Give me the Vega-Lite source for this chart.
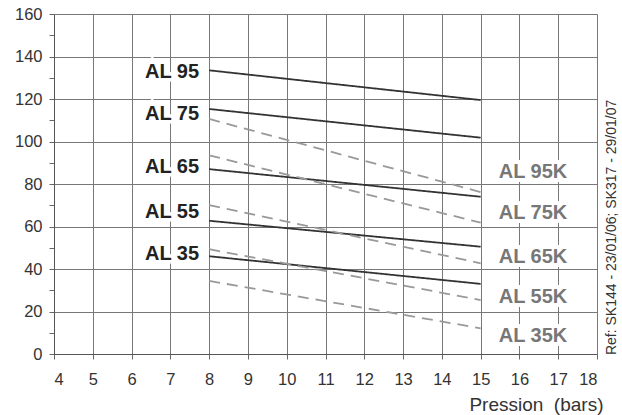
{
  "$schema": "https://vega.github.io/schema/vega-lite/v6.json",
  "width": 543,
  "height": 340,
  "autosize": {"type": "none"},
  "padding": {"left": 54, "top": 14, "right": 25, "bottom": 61},
  "background": "white",
  "config": {
    "view": {"stroke": null},
    "font": "Liberation Sans",
    "axis": {"labelFont": "Liberation Sans", "titleFont": "Liberation Sans"}
  },
  "datasets": {
    "lines": [
      {"serie": "AL 95", "kind": "solid", "p": 8, "v": 133.5},
      {"serie": "AL 95", "kind": "solid", "p": 15, "v": 119.5},
      {"serie": "AL 75", "kind": "solid", "p": 8, "v": 115.3},
      {"serie": "AL 75", "kind": "solid", "p": 15, "v": 101.8},
      {"serie": "AL 65", "kind": "solid", "p": 8, "v": 87},
      {"serie": "AL 65", "kind": "solid", "p": 15, "v": 74},
      {"serie": "AL 55", "kind": "solid", "p": 8, "v": 62.7},
      {"serie": "AL 55", "kind": "solid", "p": 15, "v": 50.5},
      {"serie": "AL 35", "kind": "solid", "p": 8, "v": 46},
      {"serie": "AL 35", "kind": "solid", "p": 15, "v": 33},
      {"serie": "AL 95K", "kind": "dashed", "p": 8, "v": 110.6},
      {"serie": "AL 95K", "kind": "dashed", "p": 15, "v": 76.2},
      {"serie": "AL 75K", "kind": "dashed", "p": 8, "v": 93.5},
      {"serie": "AL 75K", "kind": "dashed", "p": 15, "v": 61.8},
      {"serie": "AL 65K", "kind": "dashed", "p": 8, "v": 70.1},
      {"serie": "AL 65K", "kind": "dashed", "p": 15, "v": 42.7},
      {"serie": "AL 55K", "kind": "dashed", "p": 8, "v": 49.3},
      {"serie": "AL 55K", "kind": "dashed", "p": 15, "v": 25.4},
      {"serie": "AL 35K", "kind": "dashed", "p": 8, "v": 34.4},
      {"serie": "AL 35K", "kind": "dashed", "p": 15, "v": 12.1}
    ],
    "leftLabels": [
      {"label": "AL 95", "p": 7.74, "v": 132.8},
      {"label": "AL 75", "p": 7.74, "v": 113.1},
      {"label": "AL 65", "p": 7.74, "v": 88},
      {"label": "AL 55", "p": 7.74, "v": 66.7},
      {"label": "AL 35", "p": 7.74, "v": 47.2}
    ],
    "rightLabels": [
      {"label": "AL 95K", "p": 16.35, "v": 85.8},
      {"label": "AL 75K", "p": 16.35, "v": 66.4},
      {"label": "AL 65K", "p": 16.35, "v": 45.6},
      {"label": "AL 55K", "p": 16.35, "v": 26.7},
      {"label": "AL 35K", "p": 16.35, "v": 8.6}
    ],
    "ref": [
      {"label": "Ref: SK144 - 23/01/06; SK317 - 29/01/07", "p": 18.38, "v": -0.5}
    ]
  },
  "encoding": {
    "x": {
      "field": "p", "type": "quantitative",
      "scale": {"domain": [4, 18], "nice": false, "zero": false},
      "axis": {
        "values": [4,5,6,7,8,9,10,11,12,13,14,15,16,17,18],
        "title": "Pression \u00a0(bars)",
        "titleFontSize": 19, "titleFontWeight": "normal", "titleColor": "#333",
        "titleAlign": "right", "titleAnchor": "end", "titleX": 549, "titlePadding": 8,
        "labelFontSize": 16.5, "labelColor": "#333", "labelPadding": 12,
        "tickSize": 5, "tickColor": "#666",
        "domainColor": "#555", "grid": true, "gridColor": "#777", "gridWidth": 1
      }
    },
    "y": {
      "field": "v", "type": "quantitative",
      "scale": {"domain": [0, 160], "nice": false},
      "axis": {
        "values": [0,10,20,30,40,50,60,70,80,90,100,110,120,130,140,150,160],
        "labelExpr": "datum.value % 20 == 0 ? datum.label : ''",
        "title": null,
        "labelFontSize": 16.5, "labelColor": "#333", "labelPadding": 7,
        "tickSize": 5, "tickColor": "#666",
        "domainColor": "#555", "grid": true, "gridColor": "#777", "gridWidth": 1,
        "gridOpacity": {"condition": {"test": "datum.value % 20 != 0", "value": 0}, "value": 1}
      }
    }
  },
  "layer": [
    {
      "data": {"name": "lines"},
      "mark": {"type": "line", "strokeWidth": 1.8},
      "encoding": {
        "detail": {"field": "serie"},
        "color": {"field": "kind", "type": "nominal", "scale": {"domain": ["solid", "dashed"], "range": ["#333333", "#999999"]}, "legend": null},
        "strokeDash": {"field": "kind", "type": "nominal", "scale": {"domain": ["solid", "dashed"], "range": [[1, 0], [11, 7]]}, "legend": null}
      }
    },
    {
      "data": {"name": "leftLabels"},
      "mark": {"type": "text", "align": "right", "baseline": "middle", "fontSize": 20, "fontWeight": "bold", "stroke": "white", "strokeWidth": 7, "fill": "white"},
      "encoding": {"text": {"field": "label"}}
    },
    {
      "data": {"name": "leftLabels"},
      "mark": {"type": "text", "align": "right", "baseline": "middle", "fontSize": 20, "fontWeight": "bold", "color": "#222"},
      "encoding": {"text": {"field": "label"}}
    },
    {
      "data": {"name": "rightLabels"},
      "mark": {"type": "text", "align": "center", "baseline": "middle", "fontSize": 20, "fontWeight": "bold", "stroke": "white", "strokeWidth": 8, "fill": "white"},
      "encoding": {"text": {"field": "label"}}
    },
    {
      "data": {"name": "rightLabels"},
      "mark": {"type": "text", "align": "center", "baseline": "middle", "fontSize": 20, "fontWeight": "bold", "color": "#777"},
      "encoding": {"text": {"field": "label"}}
    },
    {
      "data": {"name": "ref"},
      "mark": {"type": "text", "align": "left", "baseline": "middle", "angle": 270, "fontSize": 14, "color": "#333"},
      "encoding": {"text": {"field": "label"}}
    }
  ]
}
